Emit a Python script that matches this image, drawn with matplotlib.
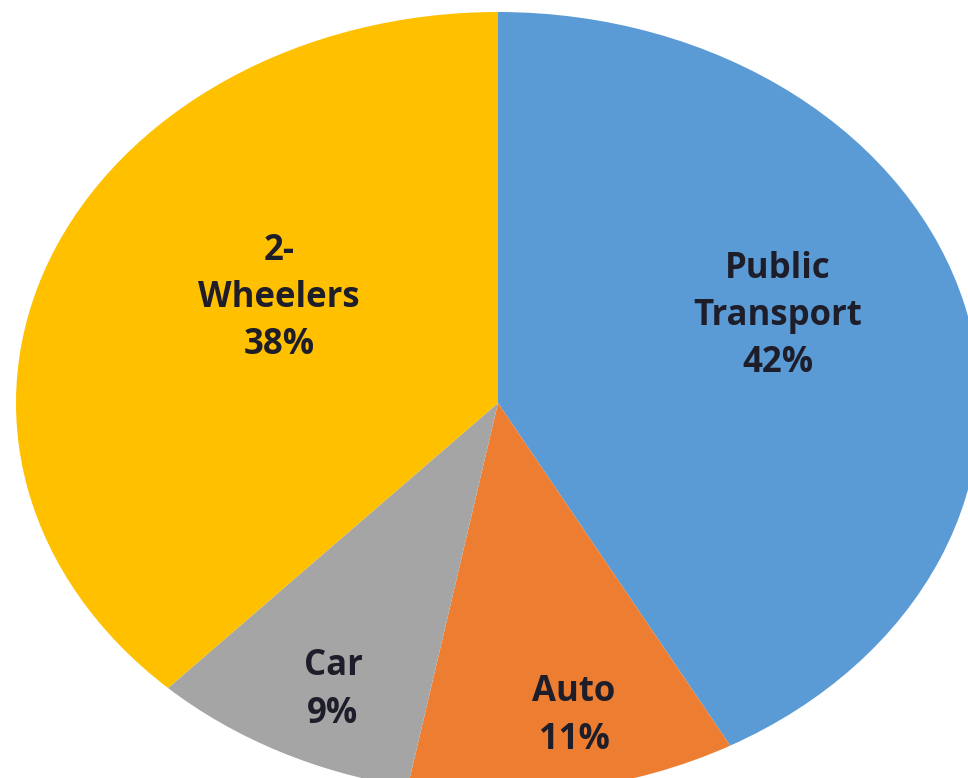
import matplotlib
matplotlib.use("Agg")
import matplotlib.pyplot as plt

categories = ["Public\nTransport", "Auto", "Car", "2-\nWheelers"]
shares = [42, 11, 9, 38]
colors = ["#5B9BD5", "#ED7D31", "#A5A5A5", "#FFC000"]

W, H = 968, 778
fig = plt.figure(figsize=(W / 100, H / 100), dpi=100)
fig.patch.set_facecolor("white")

# ellipse centre (498, 403) px from top-left, semi-axes 482 x 391
cx, cy, a, b = 498, 403, 482, 391
ax = fig.add_axes([(cx - a) / W, 1 - (cy + b) / H, 2 * a / W, 2 * b / H])
ax.pie(shares, colors=colors, startangle=90, counterclock=False,
       radius=1.0, wedgeprops=dict(linewidth=0))
ax.set_xlim(-1, 1)
ax.set_ylim(-1, 1)
ax.set_aspect("auto")
ax.axis("off")

# label centres in pixels (layout only)
label_pos = [(778, 316), (574, 716), (333, 690), (279, 298)]
for name, val, (px, py) in zip(categories, shares, label_pos):
    fig.text(px / W, 1 - py / H, f"{name}\n{val}%", ha="center", va="center",
             multialignment="center", fontsize=25, fontweight="bold",
             family="Open Sans", color="#1E1E2A", linespacing=1.42)

fig.savefig("out.png", dpi=100, facecolor="white")
